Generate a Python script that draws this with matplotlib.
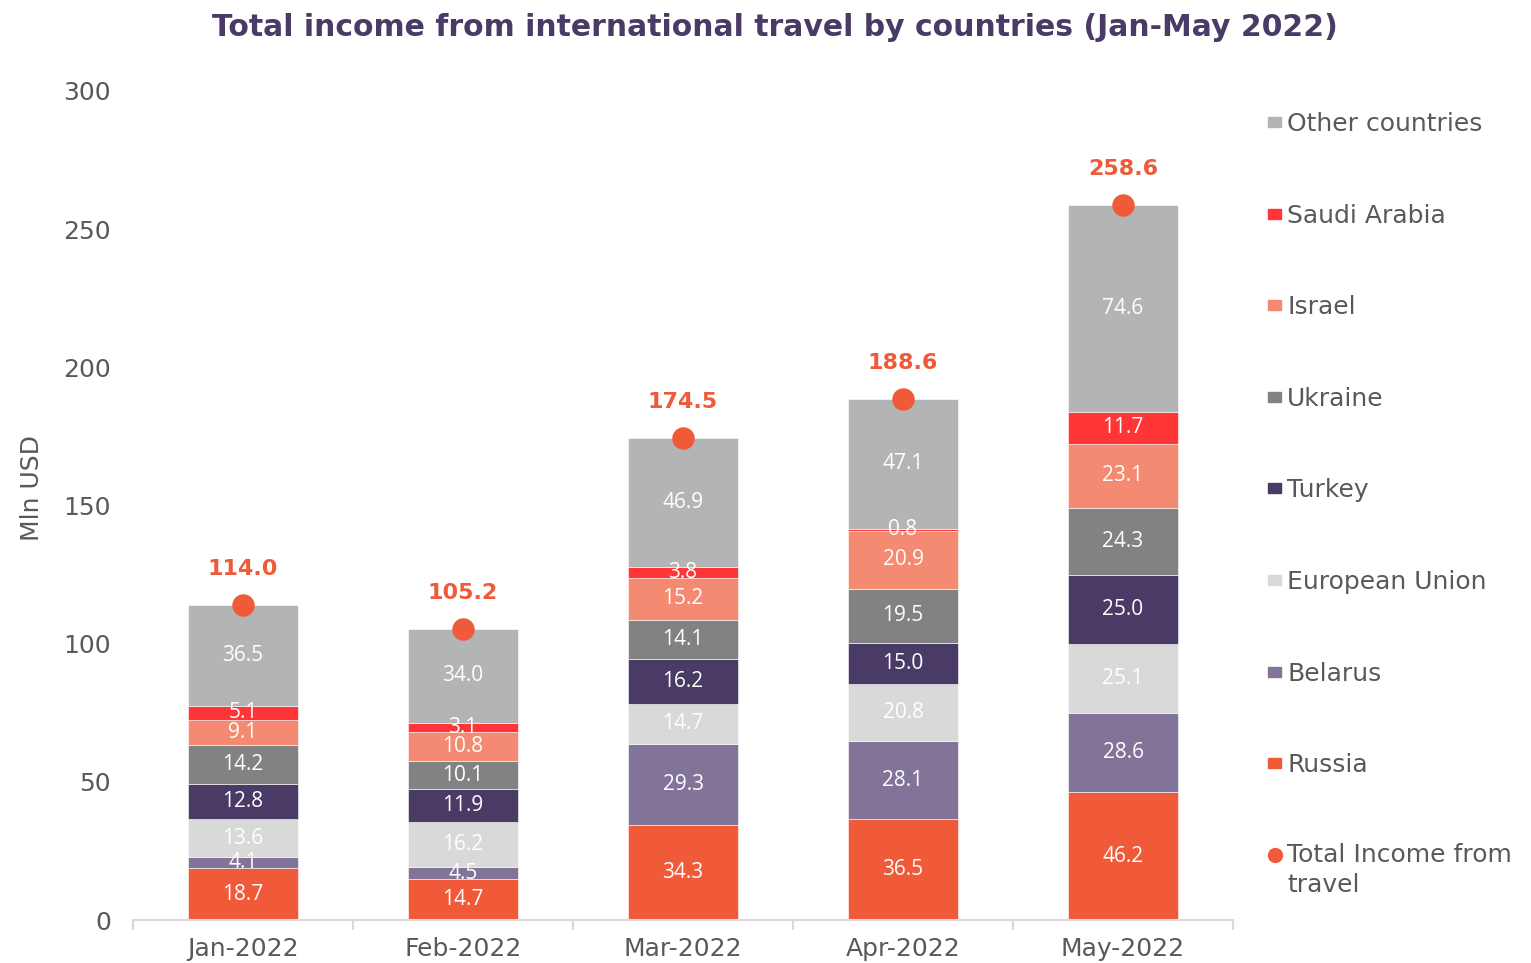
import numpy as np
import matplotlib
matplotlib.use("Agg")
import matplotlib.pyplot as plt
from matplotlib.patches import Rectangle
from matplotlib.lines import Line2D

#### data
months = ["Jan-2022", "Feb-2022", "Mar-2022", "Apr-2022", "May-2022"]
russia = [18.7, 14.7, 34.3, 36.5, 46.2]
belarus = [4.1, 4.5, 29.3, 28.1, 28.6]
eu = [13.6, 16.2, 14.7, 20.8, 25.1]
turkey = [12.8, 11.9, 16.2, 15.0, 25.0]
ukraine = [14.2, 10.1, 14.1, 19.5, 24.3]
israel = [9.1, 10.8, 15.2, 20.9, 23.1]
saudi = [5.1, 3.1, 3.8, 0.8, 11.7]
other = [36.5, 34.0, 46.9, 47.1, 74.6]
total = [114.0, 105.2, 174.5, 188.6, 258.6]
####

series = [
    ("Russia", russia, "#F05A38"),
    ("Belarus", belarus, "#827399"),
    ("European Union", eu, "#D9D9D9"),
    ("Turkey", turkey, "#4A3A66"),
    ("Ukraine", ukraine, "#828282"),
    ("Israel", israel, "#F48A72"),
    ("Saudi Arabia", saudi, "#FF3538"),
    ("Other countries", other, "#B3B4B6"),
]
total_color = "#F05A38"
text_color = "#595959"

fig = plt.figure(figsize=(15.31, 9.63), dpi=100)
ax = fig.add_axes([133/1531, 1-920/963, 1100/1531, 829/963])

x = np.arange(len(months))
bottom = np.zeros(len(months))
for name, vals, col in series:
    vals = np.array(vals)
    ax.bar(x, vals, 0.5, bottom=bottom, color=col, edgecolor="white", linewidth=0.4)
    for xi, b, v in zip(x, bottom, vals):
        ax.text(xi, b + v/2, f"{v:.1f}", ha="center", va="center", color="white",
                fontsize=15, family="Open Sans")
    bottom += vals

ax.scatter(x, total, s=230, color=total_color, zorder=5)
for xi, t in zip(x, total):
    ax.annotate(f"{t:.1f}", (xi, t), xytext=(0, 26), textcoords="offset points",
                ha="center", va="center", color=total_color, fontsize=16,
                fontweight="bold")

ax.set_xlim(-0.5, 4.5)
ax.set_ylim(0, 300)
ax.set_yticks(np.arange(0, 301, 50))
ax.tick_params(axis="y", length=0, labelsize=18, labelcolor=text_color, pad=16)
ax.set_xticks(x)
ax.set_xticklabels(months)
ax.set_xticks(np.arange(-0.5, 5, 1), minor=True)
ax.tick_params(axis="x", which="major", length=0, labelsize=18, labelcolor=text_color, pad=12)
ax.tick_params(axis="x", which="minor", length=7, color="#D9D9D9", width=1.5)
for s in ["top", "right", "left"]:
    ax.spines[s].set_visible(False)
ax.spines["bottom"].set_color("#D9D9D9")
ax.spines["bottom"].set_linewidth(1.5)

fig.text(32/1531, 1-488/963, "Mln USD", rotation=90, ha="center", va="center",
         fontsize=18, color=text_color)
fig.text(775/1531, 1-27/963, "Total income from international travel by countries (Jan-May 2022)",
         ha="center", va="center", fontsize=21.5, fontweight="bold", color="#4A3A66")

# legend, drawn by hand to match the spacing
legend_items = [(n, c) for n, v, c in series][::-1]
for i, (name, col) in enumerate(legend_items):
    yc = 122 + i*91.6
    fig.add_artist(Rectangle((1268/1531, 1-(yc+5)/963), 13/1531, 10/963,
                             transform=fig.transFigure, color=col))
    fig.text(1287/1531, 1-(yc+2)/963, name, ha="left", va="center", fontsize=18, color=text_color)
yc = 122 + 8*91.6
fig.add_artist(Line2D([1275/1531], [1-yc/963], marker="o", markersize=10,
                      color=total_color, transform=fig.transFigure))
fig.text(1287/1531, 1-(yc-12)/963, "Total Income from\ntravel", ha="left", va="top",
         fontsize=18, color=text_color, linespacing=1.3)

plt.savefig("out.png", dpi=100)
